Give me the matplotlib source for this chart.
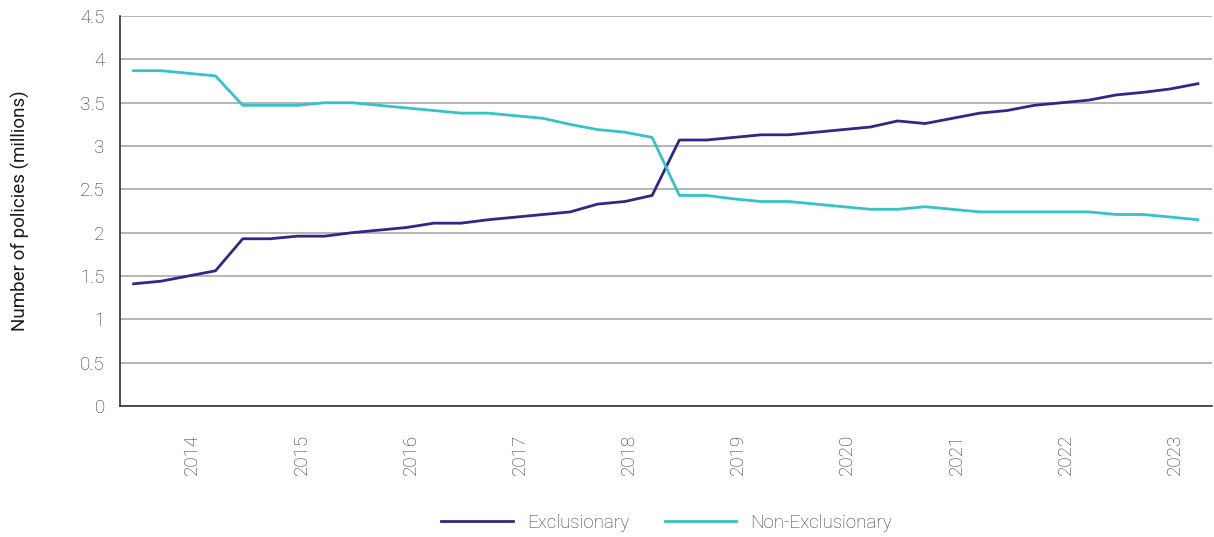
import matplotlib
matplotlib.use("Agg")
import matplotlib.pyplot as plt
import numpy as np

plt.rcParams['font.family'] = ['Roboto', 'DejaVu Sans']

# quarterly policy counts (millions), 40 quarters
exclusionary = [1.41, 1.44, 1.50, 1.56, 1.93, 1.93, 1.96, 1.96, 2.00, 2.03,
                2.06, 2.11, 2.11, 2.15, 2.18, 2.21, 2.24, 2.33, 2.36, 2.43,
                3.07, 3.07, 3.10, 3.13, 3.13, 3.16, 3.19, 3.22, 3.29, 3.26,
                3.32, 3.38, 3.41, 3.47, 3.50, 3.53, 3.59, 3.62, 3.66, 3.72]
non_exclusionary = [3.87, 3.87, 3.84, 3.81, 3.47, 3.47, 3.47, 3.50, 3.50, 3.47,
                    3.44, 3.41, 3.38, 3.38, 3.35, 3.32, 3.25, 3.19, 3.16, 3.10,
                    2.43, 2.43, 2.39, 2.36, 2.36, 2.33, 2.30, 2.27, 2.27, 2.30,
                    2.27, 2.24, 2.24, 2.24, 2.24, 2.24, 2.21, 2.21, 2.18, 2.15]
years = ['2014', '2015', '2016', '2017', '2018', '2019', '2020', '2021', '2022', '2023']
year_pos = [2, 6, 10, 14, 18, 22, 26, 30, 34, 38]

x = np.arange(len(exclusionary))

fig = plt.figure(figsize=(12.14, 5.37), dpi=100)
ax = fig.add_axes([0.0988, 0.244, 0.8992, 0.726])

ax.plot(x, exclusionary, color='#2f2888', lw=2.0, label='Exclusionary', zorder=3)
ax.plot(x, non_exclusionary, color='#36c2c9', lw=2.0, label='Non-Exclusionary', zorder=3)

ax.set_xlim(-0.5, len(x) - 0.5)
ax.set_ylim(0, 4.5)
ax.set_yticks(np.arange(0, 4.51, 0.5))
ax.set_yticklabels(['0', '0.5', '1', '1.5', '2', '2.5', '3', '3.5', '4', '4.5'])
# year labels sit a little right of the quarter they mark
ax.set_xticks([p + 0.15 for p in year_pos])
ax.set_xticklabels(years, rotation=90)
ax.tick_params(axis='both', length=0, labelsize=13.5, labelcolor='#333333')
ax.tick_params(axis='x', pad=20)
ax.tick_params(axis='y', pad=11)
for lab in ax.get_xticklabels() + ax.get_yticklabels():
    lab.set_fontweight('light')

ax.grid(axis='y', color='#a8a8a8', lw=1.2)
ax.set_axisbelow(True)
for s in ['top', 'right']:
    ax.spines[s].set_visible(False)
for s in ['left', 'bottom']:
    ax.spines[s].set_color('#333333')
    ax.spines[s].set_linewidth(1.2)

ax.set_ylabel('Number of policies (millions)', fontsize=13.5, color='#1a1a1a',
              fontweight='normal', labelpad=36)

leg = fig.legend(loc='center', bbox_to_anchor=(0.549, 0.026), ncol=2, frameon=False,
                 fontsize=13.5, handlelength=3.8, handletextpad=0.75, columnspacing=1.9)
for t in leg.get_texts():
    t.set_color('#3a3a3a')
    t.set_fontweight('light')

fig.savefig('out.png', dpi=100)
